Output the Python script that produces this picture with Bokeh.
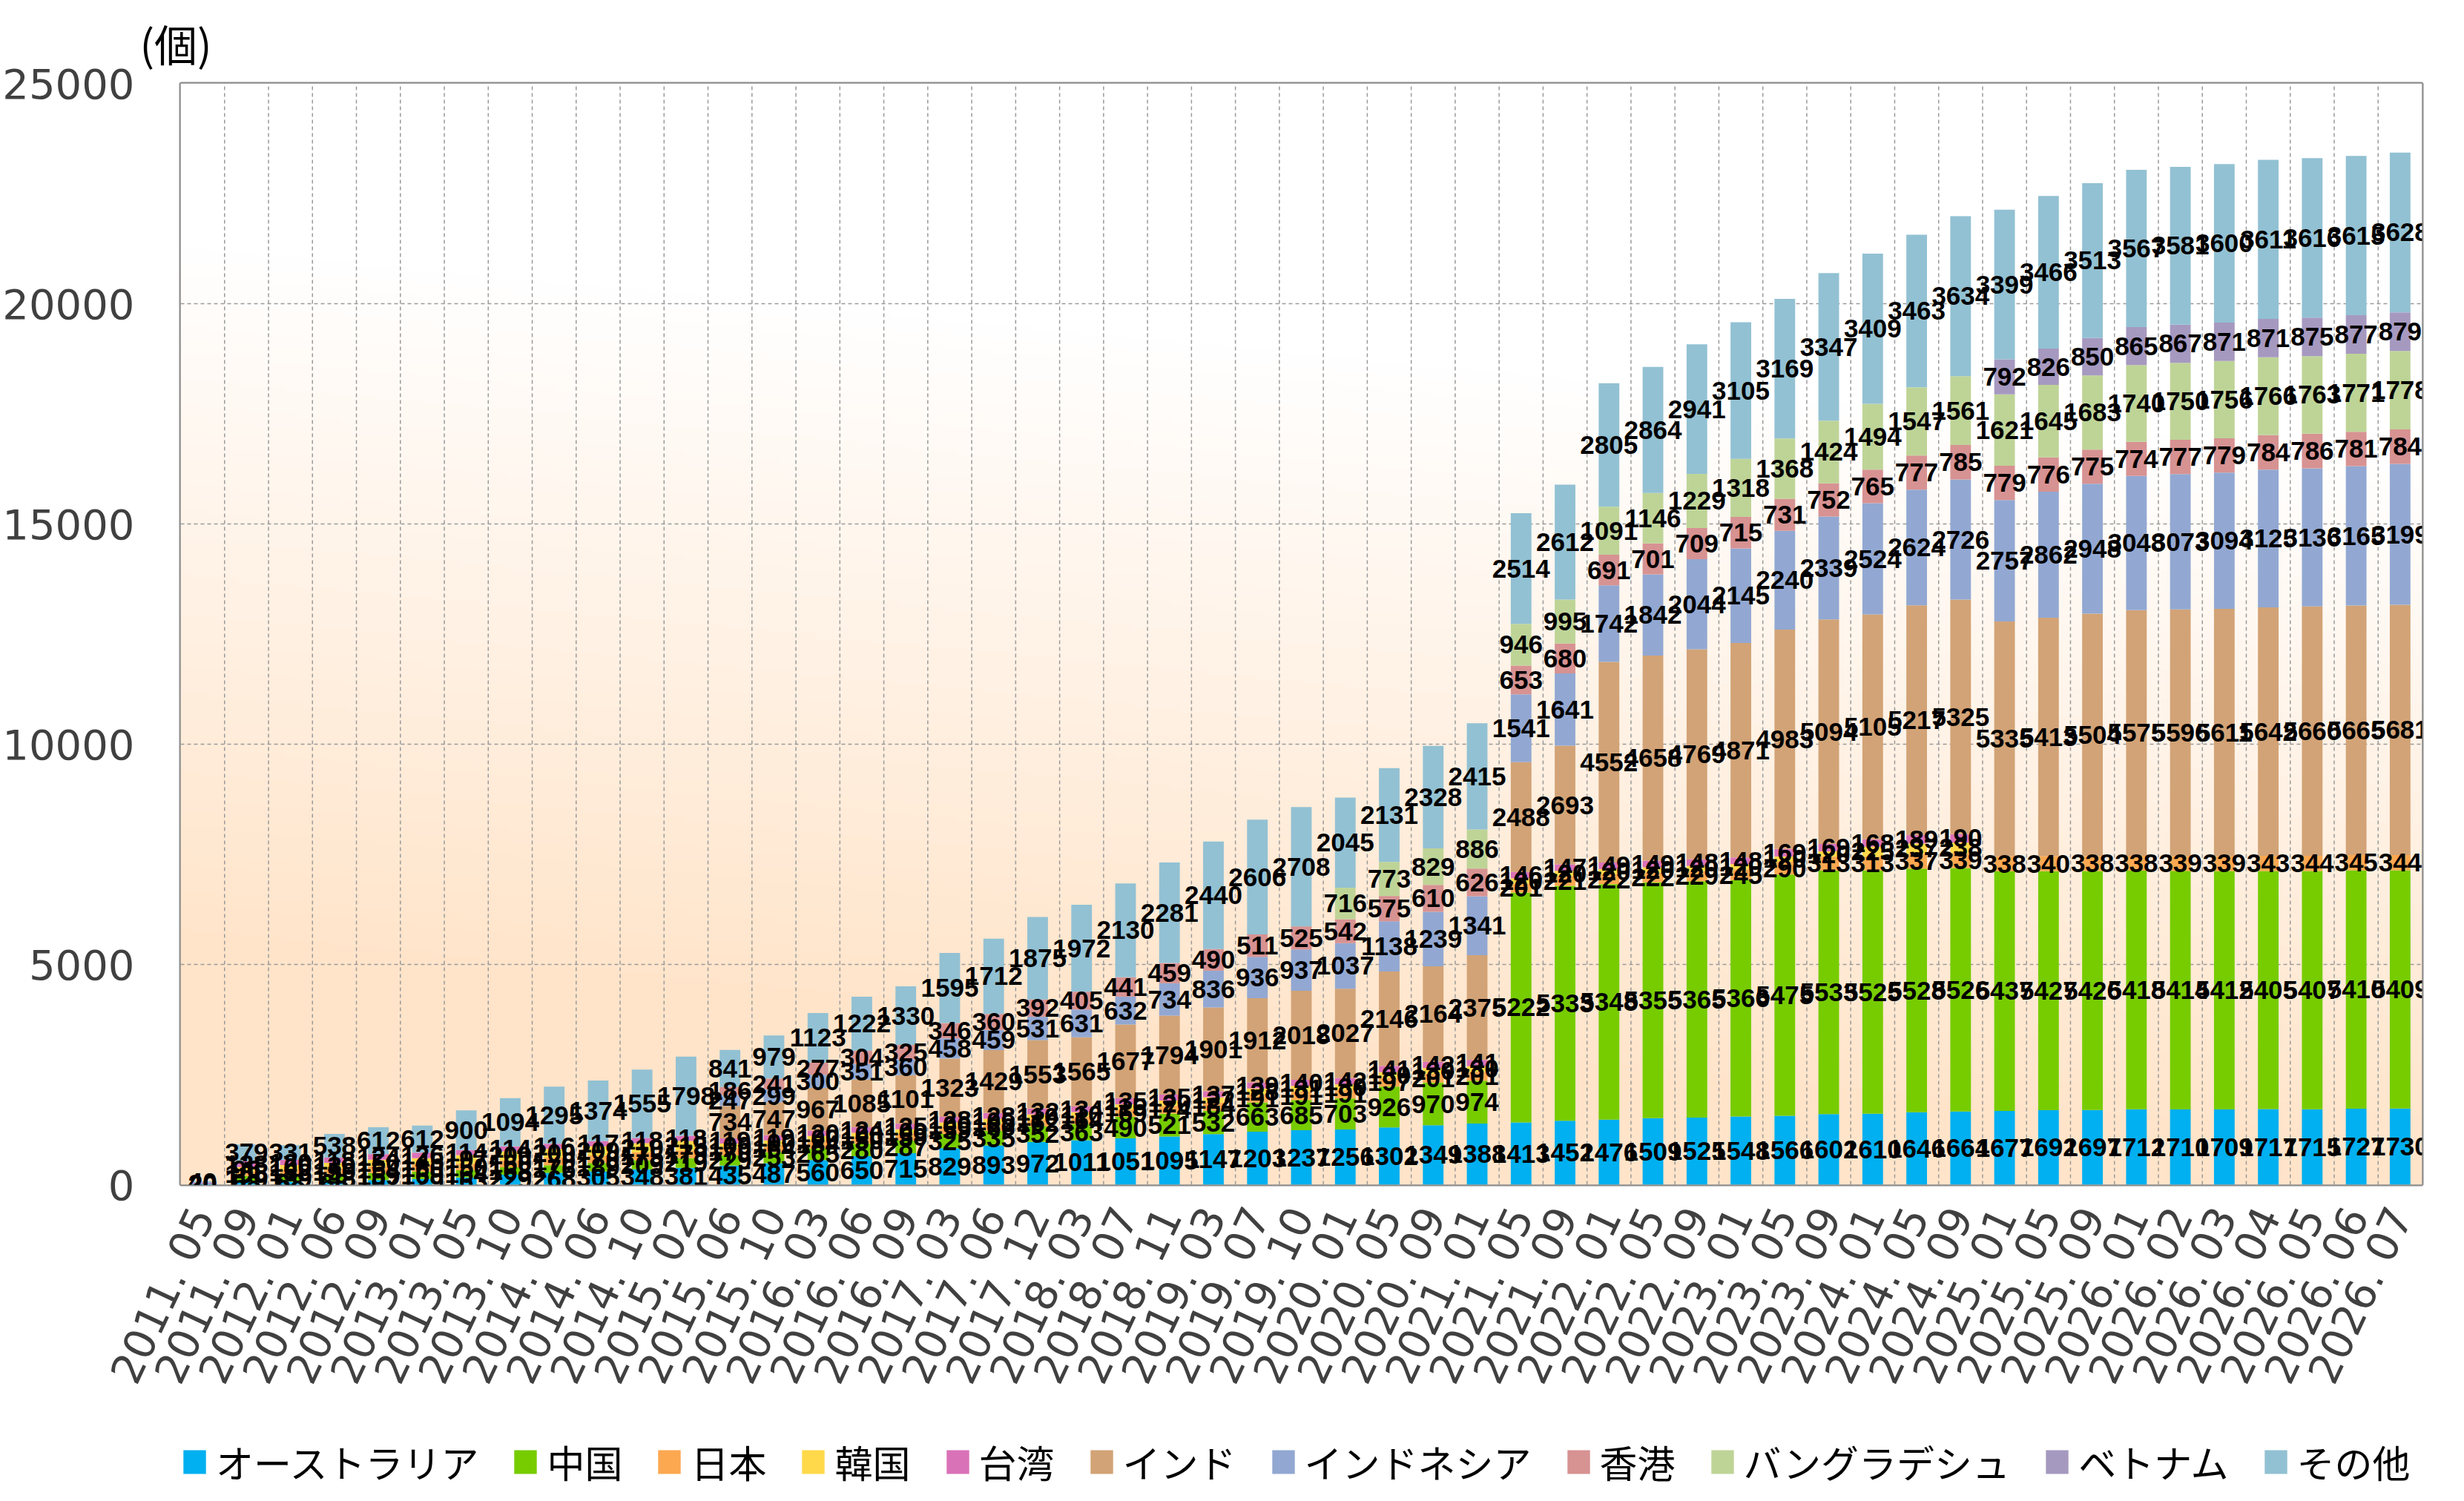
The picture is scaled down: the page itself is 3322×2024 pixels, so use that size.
import numpy as np
from bokeh.plotting import figure
from bokeh.layouts import column
from bokeh.models import (ColumnDataSource, FactorRange, Range1d, Legend, LegendItem,
                          Title, FixedTicker)
from bokeh.embed import file_html
from bokeh.resources import INLINE
from bokeh.core.properties import value

dates = ["2011. 05", "2011. 09", "2012. 01", "2012. 06", "2012. 09", "2013. 01", "2013. 05",
         "2013. 10", "2014. 02", "2014. 06", "2014. 10", "2015. 02", "2015. 06", "2015. 10",
         "2016. 03", "2016. 06", "2016. 09", "2017. 03", "2017. 06", "2017. 12", "2018. 03",
         "2018. 07", "2018. 11", "2019. 03", "2019. 07", "2019. 10", "2020. 01", "2020. 05",
         "2020. 09", "2021. 01", "2021. 05", "2021. 09", "2022. 01", "2022. 05", "2022. 09",
         "2023. 01", "2023. 05", "2023. 09", "2024. 01", "2024. 05", "2024. 09", "2025. 01",
         "2025. 05", "2025. 09", "2026. 01", "2026. 02", "2026. 03", "2026. 04", "2026. 05",
         "2026. 06", "2026. 07"]

series_names = ["オーストラリア", "中国", "日本", "韓国", "台湾", "インド", "インドネシア",
                "香港", "バングラデシュ", "ベトナム", "その他"]

australia = [20, 68, 68, 68, 107, 129, 163, 229, 268, 305, 348, 381, 435, 487, 560, 650, 715,
             829, 893, 972, 1011, 1051, 1095, 1147, 1203, 1237, 1256, 1302, 1349, 1388, 1413,
             1452, 1476, 1509, 1525, 1548, 1566, 1602, 1610, 1646, 1664, 1677, 1692, 1697, 1712,
             1710, 1709, 1717, 1715, 1727, 1730]
china = [0, 129, 139, 148, 159, 169, 164, 168, 176, 189, 209, 219, 229, 253, 265, 280, 287, 325,
         335, 352, 363, 490, 521, 532, 663, 685, 703, 926, 970, 974, 5222, 5333, 5348, 5355,
         5365, 5366, 5475, 5533, 5525, 5528, 5526, 5437, 5427, 5426, 5418, 5414, 5412, 5405,
         5407, 5410, 5409]
japan = [0, 105, 138, 150, 154, 160, 150, 160, 170, 170, 175, 179, 170, 164, 184, 150, 159, 159,
         166, 162, 164, 169, 174, 184, 191, 191, 191, 197, 201, 201, 201, 221, 222, 222, 229,
         245, 290, 313, 313, 337, 339, 338, 340, 338, 338, 339, 339, 343, 344, 345, 344]
korea = [0, 96, 100, 130, 150, 145, 197, 200, 200, 209, 210, 215, 100, 100, 100, 100, 100, 100,
         105, 110, 110, 115, 120, 122, 128, 131, 130, 130, 130, 130, 120, 120, 120, 120, 120,
         120, 120, 120, 225, 237, 238, 0, 0, 0, 0, 0, 0, 0, 0, 0, 0]
taiwan = [20, 138, 120, 118, 124, 126, 114, 114, 116, 117, 118, 118, 119, 119, 120, 124, 125,
          128, 128, 132, 134, 135, 135, 137, 139, 140, 142, 141, 142, 141, 146, 147, 149, 149,
          148, 148, 169, 169, 168, 189, 190, 0, 0, 0, 0, 0, 0, 0, 0, 0, 0]
india = [0, 0, 0, 0, 0, 0, 0, 0, 0, 0, 0, 0, 734, 747, 967, 1085, 1101, 1323, 1429, 1553, 1565,
         1677, 1794, 1901, 1912, 2018, 2027, 2146, 2164, 2375, 2488, 2693, 4552, 4658, 4769,
         4871, 4983, 5094, 5105, 5217, 5325, 5335, 5413, 5504, 5575, 5596, 5611, 5642, 5660,
         5665, 5681]
indonesia = [0, 0, 0, 0, 0, 0, 0, 0, 0, 0, 0, 0, 247, 299, 300, 351, 360, 458, 459, 531, 631,
             632, 734, 836, 936, 937, 1037, 1138, 1239, 1341, 1541, 1641, 1742, 1842, 2044, 2145,
             2240, 2339, 2524, 2624, 2726, 2757, 2862, 2948, 3048, 3073, 3094, 3125, 3136, 3165,
             3199]
hongkong = [0, 0, 0, 0, 0, 0, 0, 0, 0, 0, 0, 0, 186, 241, 277, 304, 325, 346, 360, 392, 405, 441,
            459, 490, 511, 525, 542, 575, 610, 626, 653, 680, 691, 701, 709, 715, 731, 752, 765,
            777, 785, 779, 776, 775, 774, 777, 779, 784, 786, 781, 784]
bangladesh = [0, 0, 0, 0, 0, 0, 0, 0, 0, 0, 0, 0, 0, 0, 0, 0, 0, 0, 0, 0, 0, 0, 0, 0, 0, 0, 716,
              773, 829, 886, 946, 995, 1091, 1146, 1229, 1318, 1368, 1424, 1494, 1547, 1561,
              1621, 1645, 1683, 1740, 1750, 1756, 1766, 1763, 1771, 1778]
vietnam = [0, 0, 0, 0, 0, 0, 0, 0, 0, 0, 0, 0, 0, 0, 0, 0, 0, 0, 0, 0, 0, 0, 0, 0, 0, 0, 0, 0,
           0, 0, 0, 0, 0, 0, 0, 0, 0, 0, 0, 0, 0, 792, 826, 850, 865, 867, 871, 871, 875, 877,
           879]
others = [40, 379, 331, 538, 612, 612, 900, 1094, 1295, 1374, 1555, 1798, 841, 979, 1123, 1222,
          1330, 1595, 1712, 1875, 1972, 2130, 2281, 2440, 2606, 2708, 2045, 2131, 2328, 2415,
          2514, 2612, 2805, 2864, 2941, 3105, 3169, 3347, 3409, 3463, 3634, 3399, 3466, 3513,
          3567, 3581, 3600, 3611, 3616, 3615, 3628]

y_ticks = [0, 5000, 10000, 15000, 20000, 25000]

keys = ["australia", "china", "japan", "korea", "taiwan", "india", "indonesia", "hongkong",
        "bangladesh", "vietnam", "others"]
series_values = [australia, china, japan, korea, taiwan, india, indonesia, hongkong,
                 bangladesh, vietnam, others]
colors = ["#00B0F0", "#77CC00", "#FBA851", "#FFD94A", "#DA72B8", "#D2A376", "#92A8D2",
          "#D79292", "#BED497", "#A699C0", "#92C1D3"]

data = {"date": dates}
for k, v in zip(keys, series_values):
    data[k] = v
source = ColumnDataSource(data)

JP = "Noto Sans CJK JP"
NUM = "DejaVu Sans"

W = 3306
H_MAIN = 1900
H_LEG = 108

p = figure(x_range=FactorRange(factors=dates), y_range=Range1d(0, 25000),
           width=W, height=H_MAIN, output_backend="svg", toolbar_location=None,
           min_border_left=231, min_border_right=41, min_border_top=112,
           min_border_bottom=303, background_fill_color="white",
           border_fill_color="white")

# gradient background of the plot area
N = 240
xn = np.linspace(0, 1, N)[None, :]
yn = np.linspace(0, 1, N)[:, None]
f = np.clip(1.02 - 1.55 * yn + 0.3 * (1 - xn), 0, 1)
img = np.empty((N, N), dtype=np.uint32)
view = img.view(dtype=np.uint8).reshape((N, N, 4))
view[..., 0] = 255
view[..., 1] = (255 - f * 27).astype(np.uint8)
view[..., 2] = (255 - f * 54).astype(np.uint8)
view[..., 3] = 255
p.image_rgba(image=[img], x=0, y=0, dw=len(dates), dh=y_ticks[-1], level="image")

# dashed separators between categories
bounds = list(range(1, len(dates)))
p.segment(x0=bounds, y0=0, x1=bounds, y1=y_ticks[-1], line_color="#9a9a9a",
          line_width=1.5, line_dash="5 4")

renderers = p.vbar_stack(keys, x="date", width=0.47, color=colors, source=source,
                         line_color=None)

# data labels
lx, ly, lt = [], [], []
cum = np.zeros(len(dates))
for vals in series_values:
    arr = np.array(vals, dtype=float)
    mid = cum + arr / 2
    for i, v in enumerate(vals):
        if v > 0:
            lx.append(dates[i])
            ly.append(float(mid[i]))
            lt.append(str(v))
    cum += arr
p.text(x=lx, y=ly, text=lt, text_font=value("Liberation Sans"),
       text_font_size="35px", text_font_style="bold", text_align="center",
       text_baseline="middle", text_color="black")

p.xgrid.visible = False
p.ygrid.ticker = FixedTicker(ticks=y_ticks)
p.ygrid.grid_line_color = "#9a9a9a"
p.ygrid.grid_line_dash = "5 4"
p.ygrid.grid_line_width = 1.5

p.outline_line_color = "#8c8c8c"
p.outline_line_width = 4

p.yaxis.ticker = FixedTicker(ticks=y_ticks)
for ax in (p.xaxis[0], p.yaxis[0]):
    ax.axis_line_color = None
    ax.major_tick_line_color = None
    ax.minor_tick_line_color = None
    ax.major_label_text_font = NUM
    ax.major_label_text_color = "#404040"
p.yaxis.major_label_text_font_size = "56px"
p.yaxis.major_label_standoff = 56
p.xaxis.major_label_text_font_size = "57px"
p.xaxis.major_label_orientation = np.deg2rad(65)
p.xaxis.major_label_standoff = 28

p.add_layout(Title(text="(個)", align="left", offset=-55, text_font=JP,
                   text_font_size="58px", text_font_style="normal", text_color="black",
                   standoff=26), "above")

# legend strip below the chart (its frame is aligned with the chart frame)
q = figure(width=W, height=H_LEG, x_range=Range1d(0, 1), y_range=Range1d(0, 1),
           output_backend="svg", toolbar_location=None, min_border=0,
           background_fill_color="white", border_fill_color="white")
q.axis.visible = False
q.grid.visible = False
q.outline_line_color = None
leg_renderers = [q.vbar(x=[-5], top=[0], width=0.1, color=c, line_color=None)
                 for c in colors]
items = [LegendItem(label=n, renderers=[r]) for n, r in zip(series_names, leg_renderers)]
legend = Legend(items=items, orientation="horizontal", location=(0, 0),
                label_text_font=JP, label_text_font_size="51px", label_text_color="black",
                glyph_width=38, glyph_height=40, spacing=44, label_standoff=10,
                border_line_color=None, background_fill_alpha=0, margin=0, padding=4)
q.add_layout(legend, "center")

layout = column(p, q, spacing=0)

open("out.html", "w").write(file_html(layout, INLINE))
